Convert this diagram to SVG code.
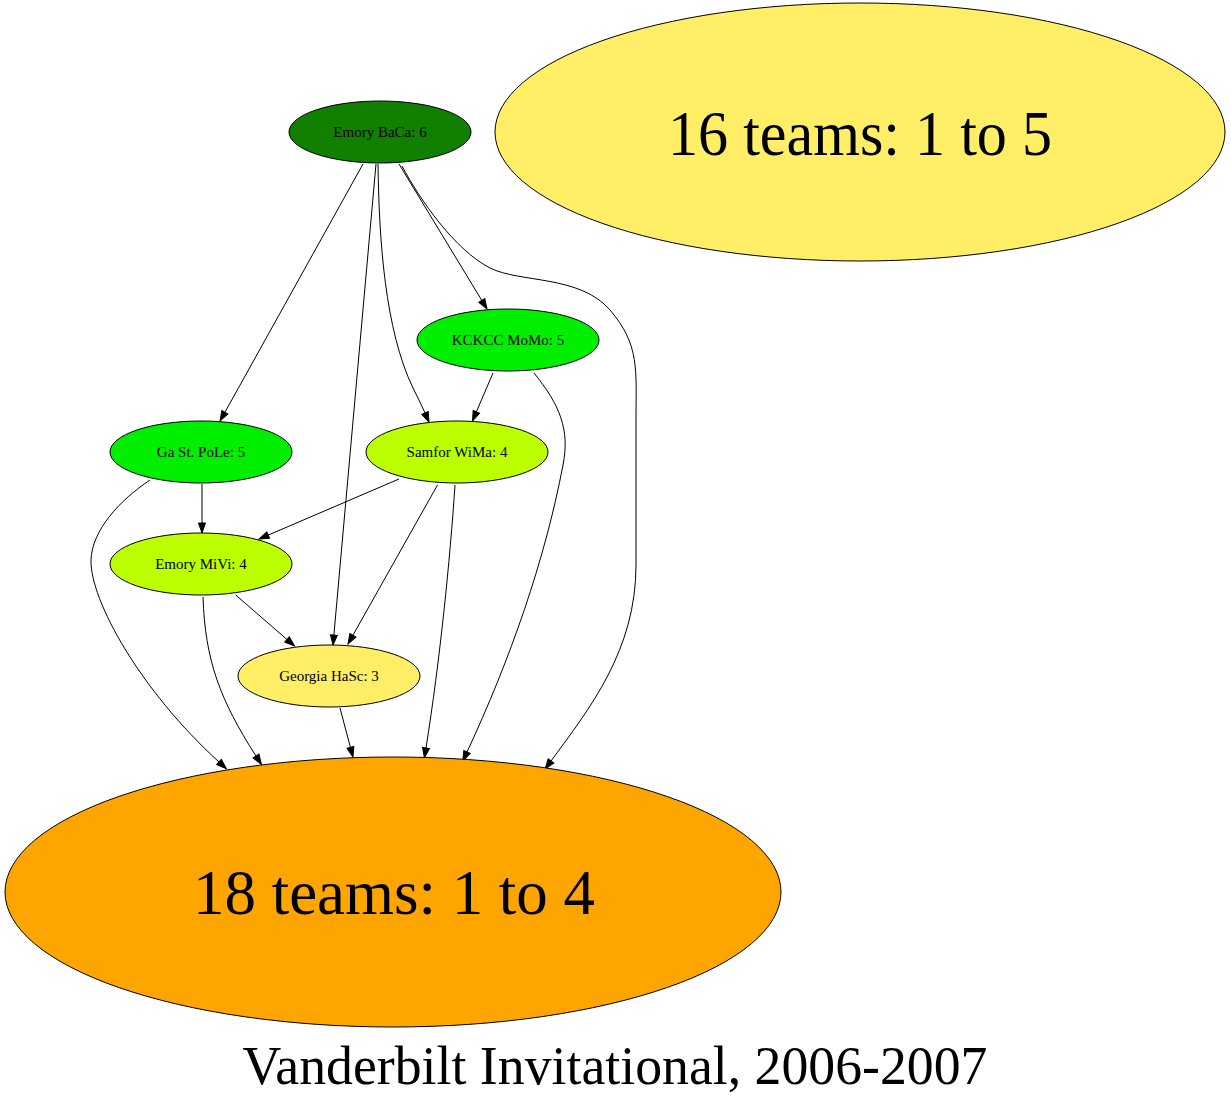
<svg xmlns="http://www.w3.org/2000/svg" width="1231" height="1105" viewBox="0 0 1231 1105">
<style>
.n ellipse{stroke:#000;stroke-width:1}
.n text{font-family:"Liberation Serif","Times New Roman",serif;fill:#000;text-anchor:middle}
.s{font-size:15px}
.b{font-size:64px}
#edges path{fill:none;stroke:#000;stroke-width:1;marker-end:url(#arr)}
.t{font-family:"Liberation Serif","Times New Roman",serif;font-size:54px;text-anchor:middle}
</style>
<defs>
<marker id="arr" markerUnits="userSpaceOnUse" markerWidth="12" markerHeight="10" refX="0" refY="5" orient="auto" overflow="visible">
<path d="M0,1.5 L10,5 L0,8.5 Z" fill="#000" stroke="#000" stroke-width="1"/>
</marker>
</defs>
<rect width="1231" height="1105" fill="#fff"/>
<g id="edges">
<path d="M363,164 L224.9,412.3"/>
<path d="M376,164 L333.9,635"/>
<path d="M378,164 C379,240 385,330 413,388 C417,396 421,404 425,413"/>
<path d="M399,164 L481.8,300.4"/>
<path d="M402,166 C420,200 455,250 490,268 C520,283 580,275 610,310 C640,345 636,370 636,420 L636,565 C636,650 590,708 551,761"/>
<path d="M493,373 L476.4,411.8"/>
<path d="M534,373 C560,405 570,430 563,465 C545,560 510,660 467,752"/>
<path d="M202,484 L202,523"/>
<path d="M150,480 C120,500 92,530 91,560 C90,600 140,690 219,762"/>
<path d="M399,479 L268.2,535.1"/>
<path d="M437.5,485 L352.9,635.3"/>
<path d="M455,485 C450,560 440,660 426,748"/>
<path d="M235.7,595 L287,639.5"/>
<path d="M203,597 C205,660 220,700 256,756"/>
<path d="M340,708 L350.4,747.3"/>
</g>
<g id="n_baca" class="n"><ellipse cx="380" cy="132" rx="91" ry="31" fill="#117f00"/><text class="s" x="380" y="137">Emory BaCa: 6</text></g>
<g id="n_16" class="n"><ellipse cx="860" cy="132" rx="365" ry="129" fill="#ffee66"/><text class="b" x="860" y="155" textLength="384" lengthAdjust="spacingAndGlyphs">16 teams: 1 to 5</text></g>
<g id="n_kckcc" class="n"><ellipse cx="508" cy="340" rx="91" ry="31" fill="#00ee00"/><text class="s" x="508" y="345">KCKCC MoMo: 5</text></g>
<g id="n_gast" class="n"><ellipse cx="201" cy="452" rx="91" ry="31" fill="#00ee00"/><text class="s" x="201" y="457">Ga St. PoLe: 5</text></g>
<g id="n_samfor" class="n"><ellipse cx="457" cy="452" rx="91" ry="31" fill="#bbff00"/><text class="s" x="457" y="457">Samfor WiMa: 4</text></g>
<g id="n_mivi" class="n"><ellipse cx="201" cy="564" rx="91" ry="31" fill="#bbff00"/><text class="s" x="201" y="569">Emory MiVi: 4</text></g>
<g id="n_hasc" class="n"><ellipse cx="329" cy="676" rx="91" ry="31" fill="#ffee66"/><text class="s" x="329" y="681">Georgia HaSc: 3</text></g>
<g id="n_18" class="n"><ellipse cx="393" cy="892" rx="388" ry="135" fill="#ffa500"/><text class="b" x="394" y="914" textLength="402" lengthAdjust="spacingAndGlyphs">18 teams: 1 to 4</text></g>
<text class="t" x="615" y="1084" textLength="745" lengthAdjust="spacingAndGlyphs">Vanderbilt Invitational, 2006-2007</text>
</svg>
